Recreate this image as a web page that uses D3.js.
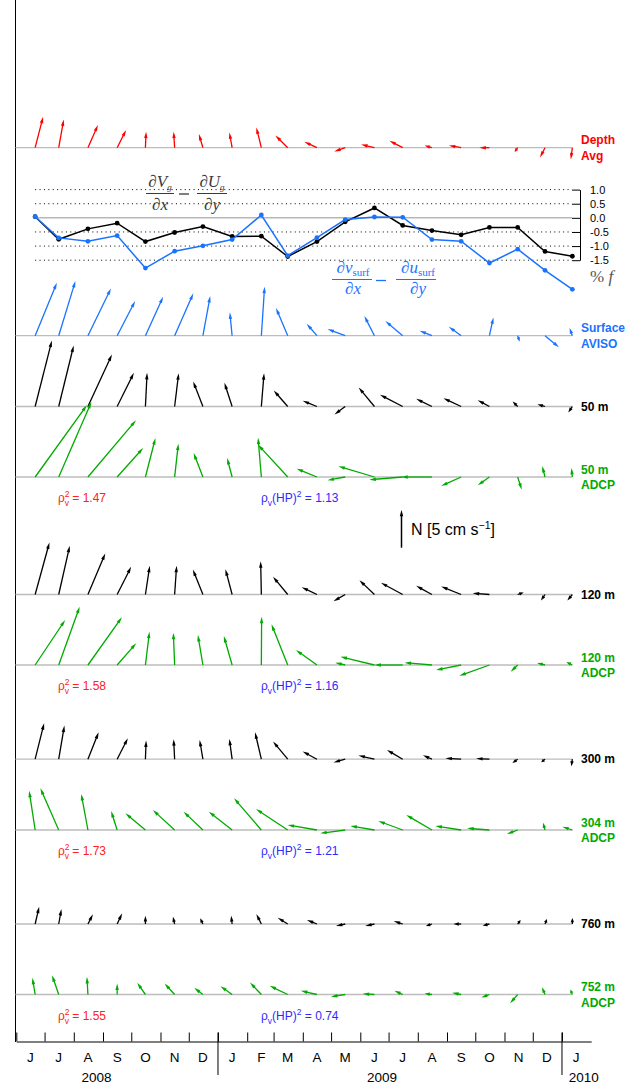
<!DOCTYPE html>
<html><head><meta charset="utf-8">
<script src="https://cdn.jsdelivr.net/npm/d3@7"></script>
<style>body{margin:0;background:#fff}svg{display:block}</style>
</head><body>
<svg id="chart" width="628" height="1086"></svg>
<script>
// ---------------- DATA ----------------
const dates = ["2008-06-21","2008-07-16","2008-08-16","2008-09-16","2008-10-16","2008-11-16","2008-12-16",
  "2009-01-16","2009-02-16","2009-03-16","2009-04-16","2009-05-16","2009-06-16","2009-07-16","2009-08-16",
  "2009-09-16","2009-10-16","2009-11-15","2009-12-14","2010-01-12"];

// relative vorticity, % f
const vortGeo  = [0.04,-0.76,-0.39,-0.19,-0.84,-0.52,-0.31,-0.66,-0.65,-1.37,-0.84,-0.14,0.35,-0.27,-0.45,-0.60,-0.34,-0.34,-1.19,-1.36];
const vortSurf = [0.04,-0.71,-0.83,-0.63,-1.78,-1.18,-0.99,-0.77,0.10,-1.34,-0.70,-0.06,0.03,0.02,-0.77,-0.83,-1.60,-1.11,-1.86,-2.53];
const vortTicks = [1.0,0.5,0.0,-0.5,-1.0,-1.5];

// velocity components, cm/s (u east, v north)
const depthAvgU = [1.05,0.66,1.32,1.18,0.09,-0.13,-0.53,-0.36,-0.66,-1.62,-1.67,-1.45,-1.75,-1.75,-0.96,-1.62,-1.32,-0.40,-0.66,-0.20];
const depthAvgV = [4.08,3.72,2.99,2.33,2.11,2.11,1.80,2.01,2.67,1.62,0.79,-0.49,0.43,0.92,0.30,0.30,0.00,-0.57,-1.30,-1.55];
const surfU = [2.86,2.20,3.03,2.37,2.33,2.46,0.96,-0.30,0.43,-1.54,-1.36,-2.33,-1.32,-2.28,-1.62,-1.62,0.53,0.26,1.84,-0.37];
const surfV = [6.97,7.20,6.22,4.57,5.13,5.57,5.22,3.07,6.45,3.64,1.58,0.88,2.59,1.93,0.66,1.18,2.41,-0.79,-1.53,1.01];
const m50U = [2.20,1.97,3.16,2.20,0.22,0.53,-1.28,-1.01,0.36,-1.84,-1.88,-1.41,-2.07,-2.99,-2.07,-2.33,-1.54,-0.66,-1.00,-0.53];
const m50V = [8.68,8.03,6.84,4.43,4.43,4.38,3.29,3.12,4.38,2.11,0.75,-1.05,2.50,1.54,1.01,1.09,0.83,0.66,0.30,-0.79];
const a50U = [6.80,4.30,6.32,3.42,1.32,0.49,-1.22,-0.66,-0.43,-3.91,-2.67,-2.33,-4.74,-4.38,-4.04,-2.63,-1.54,0.53,-0.37,-0.11];
const a50V = [9.43,9.87,7.46,3.82,5.13,4.38,3.16,2.50,5.17,4.25,1.09,-0.43,1.41,-0.36,0.00,-1.18,-1.09,-1.67,1.45,1.18];
const m120U = [1.88,1.45,2.28,1.84,0.57,0.26,-1.32,-0.88,-0.09,-1.93,-2.01,-1.54,-1.97,-2.86,-2.07,-2.63,-2.20,0.79,-0.53,-0.66];
const m120V = [6.84,6.41,5.39,3.64,3.78,3.78,3.29,3.33,4.38,2.33,0.96,-0.88,1.88,1.54,1.14,1.05,0.17,0.26,-0.79,-0.79];
const a120U = [3.95,2.76,4.47,2.50,0.53,-0.17,-0.66,-1.09,0.04,-2.14,-2.76,-1.32,-4.47,-3.72,-3.59,-3.29,-3.95,-0.92,-1.05,-0.79];
const a120V = [5.92,7.67,6.28,2.86,4.38,4.25,3.95,3.82,6.36,5.36,1.97,0.30,1.09,0.00,0.30,-0.66,-1.41,-0.88,0.26,0.39];
const m300U = [1.18,0.75,1.41,1.41,0.09,-0.13,-0.43,-0.36,-0.83,-1.93,-1.88,-1.54,-2.11,-2.07,-1.18,-2.07,-1.75,-0.70,-0.50,-0.13];
const m300V = [4.74,4.43,3.55,2.76,2.46,2.63,2.54,2.67,3.55,2.33,1.01,-0.43,0.49,1.22,0.53,0.13,0.09,-0.50,-0.40,-0.92];
const a304U = [-0.79,-2.41,-0.88,-0.79,-2.63,-2.86,-2.54,-3.07,-3.59,-4.17,-3.86,-3.29,-3.16,-3.20,-3.38,-3.38,-2.93,-1.42,-0.26,-1.32];
const a304V = [5.17,5.49,4.74,2.50,2.20,2.63,2.41,2.41,4.17,2.76,0.66,-0.43,0.53,1.18,1.97,0.53,0.22,-0.53,0.96,0.43];
const m760U = [0.53,0.36,0.66,0.66,0.00,-0.22,-0.36,-0.13,-0.66,-1.32,-1.32,-1.22,-1.22,-1.18,-0.79,-1.01,-0.88,0.39,0.26,0.00];
const m760V = [2.28,1.97,1.28,1.41,1.09,0.96,0.75,1.09,1.32,0.83,0.53,-0.26,-0.26,0.39,-0.26,0.00,-0.22,0.53,0.66,0.79];
const a752U = [-0.36,-0.88,-0.13,0.00,-1.09,-1.32,-1.14,-1.54,-1.49,-2.37,-2.11,-1.88,-1.54,-1.09,-0.96,-1.18,-1.05,-1.00,-0.39,-0.26];
const a752V = [2.20,2.54,2.33,1.45,1.54,1.45,0.88,1.09,1.58,1.14,0.49,-0.30,0.09,0.49,0.13,0.22,-0.39,-1.14,0.96,0.66];

const rhoV  = ["1.47","1.58","1.73","1.55"];
const rhoHP = ["1.13","1.16","1.21","0.74"];
const monthLabels = ["J","J","A","S","O","N","D","J","F","M","A","M","J","J","A","S","O","N","D","J"];
const yearLabels = ["2008","2009","2010"];
const yearLabelDates = ["2008-08-25","2009-06-24","2010-01-24"];
const refSpeed = 5; // cm/s

// ---------------- STYLE / LAYOUT ----------------
const RED="#ff0000", BLUE="#1a73ff", GREEN="#00aa00", BLACK="#000000", MATH="#3a3a3a";
const SANS="'Liberation Sans', Arial, Helvetica, sans-serif";
const SERIF="'Liberation Serif', 'DejaVu Serif', serif";

const rows = [
  {u:depthAvgU, v:depthAvgV, base:147.7, color:RED,   labels:["Depth","Avg"]},
  {u:surfU,     v:surfV,     base:335.7, color:BLUE,  labels:["Surface","AVISO"]},
  {u:m50U,      v:m50V,      base:406.5, color:BLACK, labels:["50 m"]},
  {u:a50U,      v:a50V,      base:477.0, color:GREEN, labels:["50 m","ADCP"], rho:0},
  {u:m120U,     v:m120V,     base:594.5, color:BLACK, labels:["120 m"]},
  {u:a120U,     v:a120V,     base:665.0, color:GREEN, labels:["120 m","ADCP"], rho:1},
  {u:m300U,     v:m300V,     base:759.2, color:BLACK, labels:["300 m"]},
  {u:a304U,     v:a304V,     base:830.0, color:GREEN, labels:["304 m","ADCP"], rho:2},
  {u:m760U,     v:m760V,     base:924.0, color:BLACK, labels:["760 m"]},
  {u:a752U,     v:a752V,     base:994.5, color:GREEN, labels:["752 m","ADCP"], rho:3},
];

const parse = d3.timeParse("%Y-%m-%d");
const dts = dates.map(parse);
const svg = d3.select("#chart");

const x = d3.scaleTime().domain([new Date(2008,5,1), new Date(2010,1,1)]).range([16.3, 591.2]);
const vs = d3.scaleLinear().domain([0, refSpeed]).range([0, 38]);
const yV = d3.scaleLinear().domain([-1.5, 1.0]).range([260.2, 189.6]);

function arrow(g, x0, y0, x1, y1, color, sw){
  const dx=x1-x0, dy=y1-y0, L=Math.hypot(dx,dy);
  if (L < 0.3) return;
  const ux=dx/L, uy=dy/L;
  const hl=Math.min(6.5, L*0.7), hw=1.7;
  const bx=x1-ux*hl, by=y1-uy*hl;
  g.append("line").attr("x1",x0).attr("y1",y0).attr("x2",bx+ux*0.8).attr("y2",by+uy*0.8)
    .attr("stroke",color).attr("stroke-width",sw||1.3);
  g.append("path").attr("d",`M${x1},${y1}L${bx-uy*hw},${by+ux*hw}L${bx+uy*hw},${by-ux*hw}Z`)
    .attr("fill",color);
}

// left axis line
svg.append("line").attr("x1",15.5).attr("x2",15.5).attr("y1",0).attr("y2",1042)
  .attr("stroke","#000").attr("stroke-width",1);

// ---------------- VECTOR ROWS ----------------
const xFirst = x(dts[0]), xLast = x(dts[dts.length-1]);
rows.forEach(r => {
  const g = svg.append("g");
  g.append("line").attr("x1",15.5).attr("x2",xLast).attr("y1",r.base).attr("y2",r.base)
    .attr("stroke","#bdbdbd").attr("stroke-width",1.3);
  dts.forEach((d,i) => {
    const x0 = x(d);
    arrow(g, x0, r.base, x0 + vs(r.u[i]), r.base - vs(r.v[i]), r.color, 1.3);
  });
  const t = g.append("g").attr("font-family",SANS).attr("font-weight","bold")
    .attr("font-size",12).attr("fill",r.color);
  if (r.labels.length===2){
    t.append("text").attr("x",581).attr("y",r.base-3.3).text(r.labels[0]);
    t.append("text").attr("x",581).attr("y",r.base+12).text(r.labels[1]);
  } else {
    t.append("text").attr("x",581).attr("y",r.base+4).text(r.labels[0]);
  }
  if (r.rho !== undefined){
    const yb = r.base + 25;
    const a = g.append("text").attr("x",58).attr("y",yb).attr("font-family",SANS)
      .attr("font-size",12).attr("fill","#ff2020");
    a.append("tspan").text("ρ");
    a.append("tspan").attr("font-size",8.5).attr("dy",-5).text("2");
    a.append("tspan").attr("font-size",8.5).attr("dx",-4.8).attr("dy",9).text("v");
    a.append("tspan").attr("dy",-4).text(" = " + rhoV[r.rho]);
    const b = g.append("text").attr("x",261).attr("y",yb).attr("font-family",SANS)
      .attr("font-size",12).attr("fill","#2b2bff");
    b.append("tspan").text("ρ");
    b.append("tspan").attr("font-size",8.5).attr("dy",4).text("v");
    b.append("tspan").attr("dy",-4).text("(HP)");
    b.append("tspan").attr("font-size",8.5).attr("dy",-5).text("2");
    b.append("tspan").attr("dy",5).text(" = " + rhoHP[r.rho]);
  }
});

// ---------------- VORTICITY PANEL ----------------
const vg = svg.append("g");
vortTicks.forEach(t => {
  if (t === 0) {
    vg.append("line").attr("x1",xFirst).attr("x2",572).attr("y1",yV(0)).attr("y2",yV(0))
      .attr("stroke","#888").attr("stroke-width",0.9);
  } else {
    vg.append("line").attr("x1",xFirst).attr("x2",572).attr("y1",yV(t)).attr("y2",yV(t))
      .attr("stroke","#000").attr("stroke-width",1).attr("stroke-dasharray","1,3.4");
  }
});
const vAxis = vg.append("g").attr("transform","translate(580,0)")
  .call(d3.axisRight(yV).tickValues(vortTicks).tickSize(-8).tickSizeOuter(0).tickPadding(10)
    .tickFormat(d => d.toFixed(1)));
vAxis.selectAll("text").attr("font-family",SANS).attr("font-size",11).attr("fill","#000");
vAxis.selectAll("line,path").attr("stroke","#000");

const line = d3.line().x((d,i)=>x(dts[i])).y(d=>yV(d));
[[vortGeo,"#000"],[vortSurf,BLUE]].forEach(([arr,c]) => {
  vg.append("path").datum(arr).attr("d",line).attr("fill","none").attr("stroke",c).attr("stroke-width",1.5);
  vg.selectAll(null).data(arr).enter().append("circle")
    .attr("cx",(d,i)=>x(dts[i])).attr("cy",d=>yV(d)).attr("r",2.4).attr("fill",c);
});

// % f
const pf = vg.append("text").attr("x",590).attr("y",282).attr("font-family",SERIF)
  .attr("font-size",17).attr("fill","#555");
pf.append("tspan").text("%");
pf.append("tspan").attr("font-style","italic").text(" f");

// math annotations
function fraction(cx, numY, barY, denY, x0, x1, num, den, color){
  const g = vg.append("g").attr("fill",color).attr("font-family",SERIF);
  const n = g.append("text").attr("x",cx).attr("y",numY).attr("text-anchor","middle").attr("font-size",17);
  num(n);
  g.append("line").attr("x1",x0).attr("x2",x1).attr("y1",barY).attr("y2",barY)
    .attr("stroke",color).attr("stroke-width",1);
  const dd = g.append("text").attr("x",cx).attr("y",denY).attr("text-anchor","middle").attr("font-size",17);
  dd.append("tspan").text("∂");
  dd.append("tspan").attr("font-style","italic").text(den);
}
function numG(letter){ return t => {
  t.append("tspan").text("∂");
  t.append("tspan").attr("font-style","italic").text(letter);
  t.append("tspan").attr("font-style","italic").attr("font-size",9).attr("dy",3).text("g");
};}
function numS(letter){ return t => {
  t.append("tspan").text("∂");
  t.append("tspan").attr("font-style","italic").text(letter);
  t.append("tspan").attr("font-size",11).attr("dy",3).text("surf");
};}
fraction(160, 186.5, 193.5, 210, 146, 174, numG("V"), "x", MATH);
vg.append("line").attr("x1",179).attr("x2",189).attr("y1",194).attr("y2",194).attr("stroke",MATH).attr("stroke-width",1.3);
fraction(212, 186.5, 193.5, 210, 197, 227, numG("U"), "y", MATH);
fraction(353, 273, 279.5, 294, 332, 372, numS("v"), "x", BLUE);
vg.append("line").attr("x1",376).attr("x2",386).attr("y1",280.5).attr("y2",280.5).attr("stroke",BLUE).attr("stroke-width",1.3);
fraction(418, 273, 279.5, 294, 396, 436, numS("u"), "y", BLUE);

// ---------------- REFERENCE ARROW ----------------
const refX = 401.5, refY0 = 547.7;
arrow(svg, refX, refY0, refX, refY0 - vs(refSpeed), "#000", 1.5);
const rt = svg.append("text").attr("x",411).attr("y",535).attr("font-family",SANS).attr("font-size",16).attr("fill","#000");
rt.append("tspan").text("N [5 cm s");
rt.append("tspan").attr("font-size",10.5).attr("dy",-6).text("−1");
rt.append("tspan").attr("dy",6).text("]");

// ---------------- TIME AXIS ----------------
const axY = 1041.5;
const monthStarts = d3.timeMonth.range(new Date(2008,5,1), new Date(2010,1,1));
const ax = svg.append("g").attr("transform",`translate(0,${axY})`)
  .call(d3.axisBottom(x).tickValues(monthStarts).tickSize(-9).tickSizeOuter(0).tickFormat(""));
ax.selectAll("line,path").attr("stroke","#000").attr("stroke-width",1);
[new Date(2009,0,1), new Date(2010,0,1)].forEach(d => {
  svg.append("line").attr("x1",x(d)).attr("x2",x(d)).attr("y1",axY-9).attr("y2",1075)
    .attr("stroke","#000").attr("stroke-width",1);
});
const mg = svg.append("g").attr("font-family",SANS).attr("font-size",13.5).attr("text-anchor","middle");
monthStarts.forEach((d,i) => {
  const mid = new Date(d.getFullYear(), d.getMonth(), 16);
  mg.append("text").attr("x",x(mid)).attr("y",1062.3).text(monthLabels[i]);
});
yearLabels.forEach((y,i) => {
  mg.append("text").attr("x",x(parse(yearLabelDates[i]))).attr("y",1081.7).text(y);
});
</script>
</body></html>
